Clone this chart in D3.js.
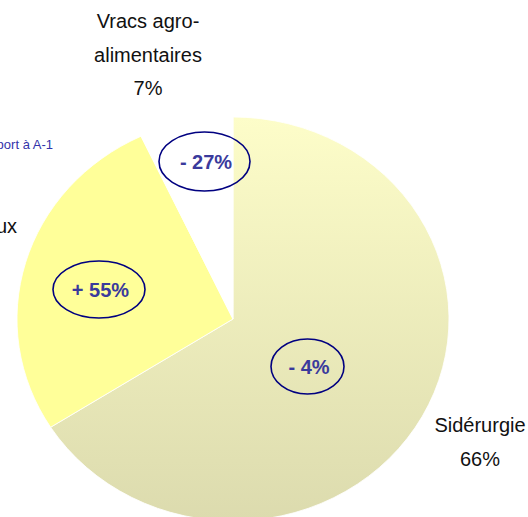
<!DOCTYPE html>
<html>
<head>
<meta charset="utf-8">
<script src="https://cdn.jsdelivr.net/npm/d3@7"></script>
<style>
  body { margin: 0; background: #fff; }
  svg { display: block; }
</style>
</head>
<body>
<div id="chart"></div>
<script>
// data
const categories = ["Sidérurgie", "Vracs minéraux", "Vracs agro-alimentaires"];
const shares = [66, 27, 7];
const evolutions = ["- 4%", "+ 55%", "- 27%"];

const width = 528;
const height = 517;
const cx = 233, cy = 319;
const rx = 216, ry = 202;

const svg = d3.select("#chart").append("svg")
  .attr("width", width)
  .attr("height", height)
  .style("font-family", "'Liberation Sans', Arial, sans-serif");

// gradient for the big slice (in the pie group's own coordinates)
const grad = svg.append("defs").append("linearGradient")
  .attr("id", "sidGrad")
  .attr("gradientUnits", "userSpaceOnUse")
  .attr("x1", 0).attr("y1", -ry)
  .attr("x2", 0).attr("y2", ry);
grad.append("stop").attr("offset", "0%").attr("stop-color", "#fdfdc9");
grad.append("stop").attr("offset", "100%").attr("stop-color", "#dcdbae");

const fills = ["url(#sidGrad)", "#ffff99", "#ffffff"];

const pie = d3.pie().sort(null).value(d => d.value);
const arcs = pie(categories.map((c, i) => ({ name: c, value: shares[i], evo: evolutions[i] })));

const arc = d3.arc().innerRadius(0).outerRadius(ry);

// pie is slightly wider than tall in the picture
const g = svg.append("g")
  .attr("transform", `translate(${cx},${cy}) scale(${rx / ry},1)`);

g.selectAll("path")
  .data(arcs)
  .join("path")
  .attr("d", arc)
  .attr("fill", (d, i) => fills[i])
  .attr("stroke", "#fff")
  .attr("stroke-width", 0.8);

// category labels (outside)
const labelLines = [
  { lines: ["Sidérurgie", shares[0] + "%"], x: 480, y: 432 },
  { lines: ["Vracs minéraux", shares[1] + "%"], x: -52, y: 233 },
  { lines: ["Vracs agro-", "alimentaires", shares[2] + "%"], x: 148, y: 28 }
];
labelLines.forEach(l => {
  const t = svg.append("text")
    .attr("text-anchor", "middle")
    .attr("font-size", 20)
    .attr("fill", "#111");
  l.lines.forEach((s, i) => {
    t.append("tspan").attr("x", l.x).attr("y", l.y + i * 33.5).text(s);
  });
});

// evolution bubbles
const bubbles = [
  { x: 307.5, y: 366.5, rx: 36.5, ry: 27.5 },
  { x: 99, y: 289.5, rx: 46, ry: 28.5 },
  { x: 204.5, y: 161.5, rx: 45.5, ry: 29.5 }
];
arcs.forEach((d, i) => {
  const b = bubbles[i];
  svg.append("ellipse")
    .attr("cx", b.x).attr("cy", b.y)
    .attr("rx", b.rx).attr("ry", b.ry)
    .attr("fill", "none")
    .attr("stroke", "#000080")
    .attr("stroke-width", 1.6);
  svg.append("text")
    .attr("x", b.x + 1.5).attr("y", b.y + 7.5)
    .attr("text-anchor", "middle")
    .attr("font-size", 20)
    .attr("font-weight", "bold")
    .attr("fill", "#3a3a9c")
    .text(d.data.evo);
});

// legend note (cut at left edge)
svg.append("text")
  .attr("x", 53).attr("y", 149)
  .attr("text-anchor", "end")
  .attr("font-size", 13)
  .attr("fill", "#3333aa")
  .text("Evolution par rapport à A-1");
</script>
</body>
</html>
